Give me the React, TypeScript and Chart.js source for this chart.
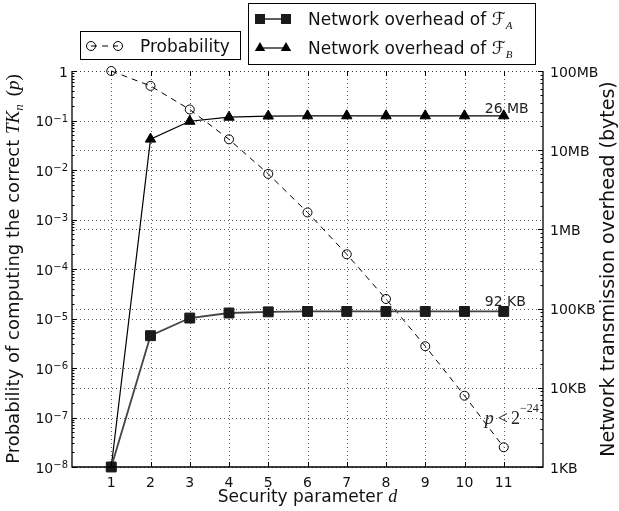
import React, { useEffect, useRef } from 'react';
import { Chart, registerables } from 'chart.js';

Chart.register(...registerables);

// ---- data ----
const securityParams = [1, 2, 3, 4, 5, 6, 7, 8, 9, 10, 11];
const probability = [1, 0.5, 0.1667, 0.04167, 0.008333, 0.001389, 1.984e-4, 2.48e-5, 2.756e-6, 2.756e-7, 2.505e-8];
const overheadA = [1e3, 4.55e4, 7.6e4, 8.8e4, 9.1e4, 9.2e4, 9.2e4, 9.2e4, 9.2e4, 9.2e4, 9.2e4];
const overheadB = [1e3, 1.38e7, 2.32e7, 2.61e7, 2.7e7, 2.72e7, 2.72e7, 2.72e7, 2.72e7, 2.72e7, 2.72e7];

const probTickValues = [1, 1e-1, 1e-2, 1e-3, 1e-4, 1e-5, 1e-6, 1e-7, 1e-8];
const probTickExponents = ['0', '−1', '−2', '−3', '−4', '−5', '−6', '−7', '−8'];
const bytesTickValues = [1e3, 1e4, 1e5, 1e6, 1e7, 1e8];
const bytesTickLabels = ['1KB', '10KB', '100KB', '1MB', '10MB', '100MB'];
const xTickLabels = ['1', '2', '3', '4', '5', '6', '7', '8', '9', '10', '11'];

const SANS = "'DejaVu Sans', sans-serif";
const SERIF = "'Liberation Serif', 'DejaVu Serif', serif";

type Seg = { text: string; font: string; dy?: number; pre?: number };

function drawRich(ctx: CanvasRenderingContext2D, segs: Seg[], x: number, y: number, align: 'left' | 'center' | 'right') {
  const widths = segs.map((s) => {
    ctx.font = s.font;
    return ctx.measureText(s.text).width + (s.pre || 0);
  });
  const total = widths.reduce((a, b) => a + b, 0);
  let cx = align === 'center' ? x - total / 2 : align === 'right' ? x - total : x;
  ctx.textAlign = 'left';
  ctx.textBaseline = 'alphabetic';
  segs.forEach((s, i) => {
    ctx.font = s.font;
    ctx.fillText(s.text, cx + (s.pre || 0), y + (s.dy || 0));
    cx += widths[i];
  });
}

function marker(ctx: CanvasRenderingContext2D, style: string, x: number, y: number) {
  ctx.beginPath();
  if (style === 'rect') {
    ctx.rect(x - 5, y - 5, 10, 10);
    ctx.fillStyle = '#1a1a1a';
    ctx.fill();
  } else if (style === 'triangle') {
    const r = 6;
    ctx.moveTo(x, y - r);
    ctx.lineTo(x + r * 0.866, y + r * 0.5);
    ctx.lineTo(x - r * 0.866, y + r * 0.5);
    ctx.closePath();
    ctx.fillStyle = '#000';
    ctx.fill();
  } else {
    ctx.arc(x, y, 4.5, 0, Math.PI * 2);
    ctx.strokeStyle = '#000';
    ctx.lineWidth = 1;
    ctx.stroke();
  }
}

const decorPlugin = {
  id: 'decor',
  beforeDatasetsDraw(chart: any) {
    const { ctx, chartArea: a, scales } = chart;
    const xs = scales.x, ys = scales.y, y2s = scales.y2;
    ctx.save();
    ctx.strokeStyle = '#333';
    ctx.lineWidth = 0.8;
    ctx.setLineDash([1, 3]);
    ctx.beginPath();
    securityParams.forEach((d) => {
      const px = Math.round(xs.getPixelForValue(d)) + 0.5;
      ctx.moveTo(px, a.top);
      ctx.lineTo(px, a.bottom);
    });
    probTickValues.forEach((v) => {
      const py = Math.round(ys.getPixelForValue(v)) + 0.5;
      ctx.moveTo(a.left, py);
      ctx.lineTo(a.right, py);
    });
    bytesTickValues.forEach((v) => {
      const py = Math.round(y2s.getPixelForValue(v)) + 0.5;
      ctx.moveTo(a.left, py);
      ctx.lineTo(a.right, py);
    });
    ctx.stroke();
    ctx.restore();
  },
  afterDatasetsDraw(chart: any) {
    const { ctx, chartArea: a, scales } = chart;
    const xs = scales.x, ys = scales.y, y2s = scales.y2;
    ctx.save();
    ctx.strokeStyle = '#000';
    ctx.lineWidth = 1.3;
    ctx.beginPath();
    ctx.moveTo(a.left, a.top);
    ctx.lineTo(a.left, a.bottom);
    ctx.lineTo(a.right, a.bottom);
    ctx.lineTo(a.right, a.top);
    ctx.stroke();
    // ticks
    ctx.lineWidth = 1;
    ctx.beginPath();
    securityParams.forEach((d) => {
      const px = Math.round(xs.getPixelForValue(d)) + 0.5;
      ctx.moveTo(px, a.bottom);
      ctx.lineTo(px, a.bottom - 5);
      ctx.moveTo(px, a.top);
      ctx.lineTo(px, a.top + 5);
    });
    probTickValues.forEach((v, i) => {
      const py = Math.round(ys.getPixelForValue(v)) + 0.5;
      ctx.moveTo(a.left, py);
      ctx.lineTo(a.left + 5, py);
      if (i < probTickValues.length - 1) {
        for (let m = 2; m <= 9; m++) {
          const my = Math.round(ys.getPixelForValue(probTickValues[i + 1] * m)) + 0.5;
          ctx.moveTo(a.left, my);
          ctx.lineTo(a.left + 2.5, my);
        }
      }
    });
    bytesTickValues.forEach((v, i) => {
      const py = Math.round(y2s.getPixelForValue(v)) + 0.5;
      ctx.moveTo(a.right, py);
      ctx.lineTo(a.right - 5, py);
      if (i < bytesTickValues.length - 1) {
        for (let m = 2; m <= 9; m++) {
          const my = Math.round(y2s.getPixelForValue(v * m)) + 0.5;
          ctx.moveTo(a.right, my);
          ctx.lineTo(a.right - 2.5, my);
        }
      }
    });
    ctx.stroke();
    ctx.restore();
  },
  afterDraw(chart: any) {
    const { ctx, chartArea: a, scales } = chart;
    const xs = scales.x, ys = scales.y, y2s = scales.y2;
    ctx.save();
    ctx.fillStyle = '#111';
    // left tick labels
    probTickValues.forEach((v, i) => {
      const py = ys.getPixelForValue(v);
      ctx.textAlign = 'right';
      ctx.textBaseline = 'alphabetic';
      if (i === 0) {
        ctx.font = `14px ${SANS}`;
        ctx.fillText('1', 68, py + 5.5);
      } else {
        ctx.font = `10px ${SANS}`;
        const sup = probTickExponents[i];
        const sw = ctx.measureText(sup).width;
        ctx.fillText(sup, 68, py + 1);
        ctx.font = `14px ${SANS}`;
        ctx.fillText('10', 68 - sw, py + 5.5);
      }
    });
    // right tick labels
    bytesTickValues.forEach((v, i) => {
      const py = y2s.getPixelForValue(v);
      ctx.textAlign = 'left';
      ctx.textBaseline = 'alphabetic';
      ctx.font = `14px ${SANS}`;
      ctx.fillText(bytesTickLabels[i], a.right + 7, py + 5.5);
    });
    // x tick labels
    securityParams.forEach((d, i) => {
      const px = xs.getPixelForValue(d);
      ctx.textAlign = 'center';
      ctx.textBaseline = 'alphabetic';
      ctx.font = `14px ${SANS}`;
      ctx.fillText(xTickLabels[i], px, a.bottom + 20);
    });
    // x title
    drawRich(ctx, [
      { text: 'Security parameter ', font: `17px ${SANS}` },
      { text: 'd', font: `italic 18px ${SERIF}` },
    ], (a.left + a.right) / 2, 502, 'center');
    // left title
    const cy = (a.top + a.bottom) / 2;
    ctx.save();
    ctx.translate(19, cy);
    ctx.rotate(-Math.PI / 2);
    drawRich(ctx, [
      { text: 'Probability of computing the correct ', font: `18px ${SANS}` },
      { text: 'TK', font: `italic 19px ${SERIF}` },
      { text: 'n', font: `italic 13px ${SERIF}`, dy: 4 },
      { text: '(', font: `19px ${SERIF}`, pre: 8 },
      { text: 'p', font: `italic 19px ${SERIF}` },
      { text: ')', font: `19px ${SERIF}` },
    ], 0, 0, 'center');
    ctx.restore();
    // right title
    ctx.save();
    ctx.translate(614, cy);
    ctx.rotate(-Math.PI / 2);
    drawRich(ctx, [{ text: 'Network transmission overhead (bytes)', font: `19px ${SANS}` }], 0, 0, 'center');
    ctx.restore();

    // annotations anchored on last points
    const lastX = xs.getPixelForValue(securityParams[securityParams.length - 1]);
    const bY = y2s.getPixelForValue(overheadB[overheadB.length - 1]);
    const aY = y2s.getPixelForValue(overheadA[overheadA.length - 1]);
    const pY = ys.getPixelForValue(probability[probability.length - 1]);
    ctx.fillStyle = '#222';
    drawRich(ctx, [{ text: '26 MB', font: `14px ${SANS}` }], lastX - 19, bY - 3, 'left');
    drawRich(ctx, [{ text: '92 KB', font: `14px ${SANS}` }], lastX - 19, aY - 5, 'left');
    drawRich(ctx, [
      { text: 'p', font: `italic 18px ${SERIF}` },
      { text: '<', font: `18px ${SERIF}`, pre: 4 },
      { text: '2', font: `18px ${SERIF}`, pre: 3 },
      { text: '−24', font: `12px ${SERIF}`, dy: -12 },
    ], lastX - 19, pY - 23, 'left');

    // legend box 1
    ctx.fillStyle = '#fff';
    ctx.strokeStyle = '#000';
    ctx.lineWidth = 1;
    ctx.setLineDash([]);
    ctx.fillRect(80.5, 31.5, 160, 28);
    ctx.strokeRect(80.5, 31.5, 160, 28);
    ctx.save();
    ctx.setLineDash([6, 5]);
    ctx.beginPath();
    ctx.moveTo(91, 46);
    ctx.lineTo(118, 46);
    ctx.stroke();
    ctx.restore();
    marker(ctx, 'circle', 91, 46);
    marker(ctx, 'circle', 118, 46);
    ctx.fillStyle = '#111';
    drawRich(ctx, [{ text: 'Probability', font: `17px ${SANS}` }], 140, 52, 'left');

    // legend box 2
    ctx.fillStyle = '#fff';
    ctx.strokeStyle = '#000';
    ctx.fillRect(248.5, 3.5, 287, 61);
    ctx.strokeRect(248.5, 3.5, 287, 61);
    ctx.beginPath();
    ctx.strokeStyle = '#333';
    ctx.lineWidth = 1.6;
    ctx.moveTo(260, 19);
    ctx.lineTo(286, 19);
    ctx.stroke();
    marker(ctx, 'rect', 260, 19);
    marker(ctx, 'rect', 286, 19);
    ctx.beginPath();
    ctx.strokeStyle = '#000';
    ctx.lineWidth = 1.2;
    ctx.moveTo(260, 48);
    ctx.lineTo(286, 48);
    ctx.stroke();
    marker(ctx, 'triangle', 260, 48);
    marker(ctx, 'triangle', 286, 48);
    ctx.fillStyle = '#111';
    drawRich(ctx, [
      { text: 'Network overhead of ', font: `17px ${SANS}` },
      { text: 'ℱ', font: `18px ${SANS}` },
      { text: 'A', font: `italic 11px ${SERIF}`, dy: 4 },
    ], 308, 25, 'left');
    drawRich(ctx, [
      { text: 'Network overhead of ', font: `17px ${SANS}` },
      { text: 'ℱ', font: `18px ${SANS}` },
      { text: 'B', font: `italic 11px ${SERIF}`, dy: 4 },
    ], 308, 54, 'left');
    ctx.restore();
  },
};

export default function App() {
  const canvasRef = useRef<HTMLCanvasElement | null>(null);
  useEffect(() => {
    if (!canvasRef.current) return;
    const pts = (vals: number[]) => securityParams.map((d, i) => ({ x: d, y: vals[i] }));
    const hidden = {
      grid: { display: false },
      border: { display: false },
      ticks: { display: false },
    };
    const chart = new Chart(canvasRef.current, {
      type: 'line',
      data: {
        datasets: [
          {
            label: 'Network overhead of F_A',
            data: pts(overheadA),
            yAxisID: 'y2',
            borderColor: '#444',
            borderWidth: 1.8,
            pointStyle: 'rect',
            pointRadius: 7,
            pointBackgroundColor: '#1a1a1a',
            pointBorderColor: '#1a1a1a',
            pointBorderWidth: 1,
            tension: 0,
            clip: false as any,
          },
          {
            label: 'Network overhead of F_B',
            data: pts(overheadB),
            yAxisID: 'y2',
            borderColor: '#000',
            borderWidth: 1.2,
            pointStyle: 'triangle',
            pointRadius: 6,
            pointBackgroundColor: '#000',
            pointBorderColor: '#000',
            pointBorderWidth: 1,
            tension: 0,
            clip: false as any,
          },
          {
            label: 'Probability',
            data: pts(probability),
            yAxisID: 'y',
            borderColor: '#000',
            borderWidth: 1,
            borderDash: [6, 5],
            pointStyle: 'circle',
            pointRadius: 4.5,
            pointBackgroundColor: 'rgba(0,0,0,0)',
            pointBorderColor: '#000',
            pointBorderWidth: 1,
            tension: 0,
            clip: false as any,
          },
        ],
      },
      options: {
        responsive: false,
        animation: false,
        events: [],
        layout: { padding: { top: 71, left: 0, right: 0, bottom: 0 }, autoPadding: false },
        plugins: { legend: { display: false }, tooltip: { enabled: false } },
        scales: {
          x: { type: 'linear', min: 0, max: 12, ...hidden, afterFit: (s: any) => { s.height = 44; } },
          y: { type: 'logarithmic', position: 'left', min: 1e-8, max: 1, ...hidden, afterFit: (s: any) => { s.width = 72; } },
          y2: { type: 'logarithmic', position: 'right', min: 1e3, max: 1e8, ...hidden, afterFit: (s: any) => { s.width = 76; } },
        },
      } as any,
      plugins: [decorPlugin],
    });
    return () => chart.destroy();
  }, []);
  return (
    <div style={{ position: 'absolute', left: 0, top: 0, width: 619, height: 511, background: '#fff' }}>
      <canvas ref={canvasRef} width={619} height={511} style={{ display: 'block' }} />
    </div>
  );
}
